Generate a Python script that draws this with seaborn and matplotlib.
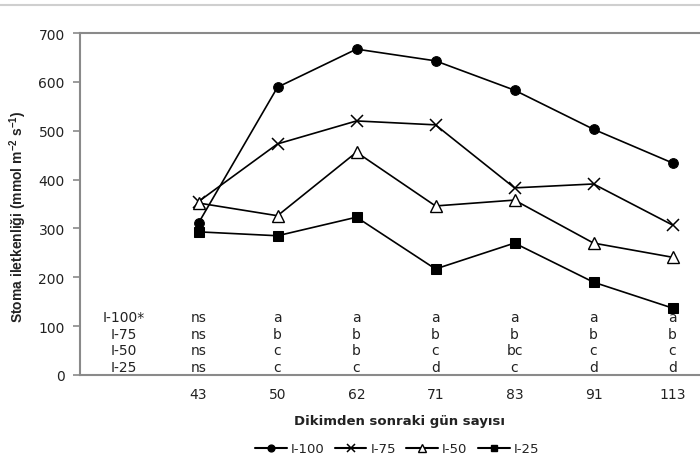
import matplotlib
matplotlib.use("Agg")
import matplotlib.pyplot as plt
from matplotlib.lines import Line2D
import seaborn as sns
import pandas as pd

# Sampling days after planting
days = ["43", "50", "62", "71", "83", "91", "113"]

# Stomatal conductance (mmol m-2 s-1) per irrigation level
i100 = [311, 589, 667, 643, 583, 503, 434]
i75 = [355, 473, 520, 512, 383, 391, 307]
i50 = [352, 326, 456, 346, 358, 270, 241]
i25 = [293, 285, 323, 217, 270, 190, 137]

series_names = ["I-100", "I-75", "I-50", "I-25"]
row_labels = ["I-100*", "I-75", "I-50", "I-25"]

# Significance letters per day (rows: I-100, I-75, I-50, I-25)
letters = [
    ["ns", "a", "a", "a", "a", "a", "a"],
    ["ns", "b", "b", "b", "b", "b", "b"],
    ["ns", "c", "b", "c", "bc", "c", "c"],
    ["ns", "c", "c", "d", "c", "d", "d"],
]
letter_y = [119, 84, 51, 16]

sns.set_theme(style="white")
plt.rcParams["font.family"] = ["DejaVu Sans"]

grey = "#8a8a8a"
txt = "#222222"

rows = []
for name, vals in zip(series_names, [i100, i75, i50, i25]):
    for k, v in enumerate(vals):
        rows.append({"pos": k + 1, "value": v, "series": name})
df = pd.DataFrame(rows)

fig = plt.figure(figsize=(7.0, 4.6), dpi=100)
ax = fig.add_axes([80 / 700, 84 / 460, 620 / 700, 342 / 460])

styles = {
    "I-100": dict(marker="o", markersize=7, markerfacecolor="black", markeredgecolor="black"),
    "I-75": dict(marker="x", markersize=9, markerfacecolor="black", markeredgecolor="black", markeredgewidth=1.1),
    "I-50": dict(marker="^", markersize=8, markerfacecolor="white", markeredgecolor="black", markeredgewidth=1.0),
    "I-25": dict(marker="s", markersize=7, markerfacecolor="black", markeredgecolor="black"),
}

for name in series_names:
    sub = df[df["series"] == name]
    sns.lineplot(data=sub, x="pos", y="value", ax=ax, color="black",
                 linewidth=1.2, legend=False, **styles[name])

# Significance letters below the curves
for r in range(4):
    ax.text(0.05, letter_y[r], row_labels[r], ha="center", va="center",
            fontsize=10, color=txt)
    for k in range(7):
        ax.text(k + 1, letter_y[r], letters[r][k], ha="center", va="center",
                fontsize=10, color=txt)

ax.set_xlim(-0.5, 620 / 79 - 0.5)
ax.set_ylim(0, 700)
ax.set_yticks(range(0, 701, 100))
ax.set_xticks(range(0, 8))
ax.set_xticklabels([""] + days)
ax.set_xlabel("")
ax.set_ylabel("")

for side in ["left", "bottom", "top"]:
    ax.spines[side].set_color(grey)
    ax.spines[side].set_linewidth(1.5)
ax.spines["right"].set_visible(False)

ax.tick_params(axis="y", which="both", left=True, length=5, width=1.2,
               color=grey, labelsize=10, labelcolor=txt, pad=6)
ax.tick_params(axis="x", which="both", bottom=False, length=0,
               labelsize=10, labelcolor=txt, pad=9)

fig.text(400 / 700, 1 - 422 / 460, "Dikimden sonraki gün sayısı",
         ha="center", va="center", fontsize=9.5, fontweight="bold", color=txt)
fig.text(18 / 700, 1 - 217 / 460,
         r"Stoma iletkenliği (mmol m$^{\mathregular{-2}}$ s$^{\mathregular{-1}}$)",
         ha="center", va="center", rotation=90, fontsize=10,
         fontweight="bold", color=txt, family=["Liberation Sans", "DejaVu Sans"])

# Thin rule across the top of the figure
fig.add_artist(Line2D([0, 1], [1 - 6 / 460, 1 - 6 / 460],
                      transform=fig.transFigure, color="#cfcfcf", linewidth=1.5))

handles = []
for name in series_names:
    st = dict(styles[name])
    st["markersize"] = st["markersize"] * 0.7
    handles.append(Line2D([0], [0], color="black", linewidth=1.5, **st))
fig.legend(handles, series_names, loc="center", ncol=4, frameon=False,
           bbox_to_anchor=(397 / 700, 1 - 450 / 460), fontsize=9.5,
           handlelength=2.4, handletextpad=0.3, columnspacing=0.8,
           labelcolor=txt)

fig.savefig("out.png", dpi=100)
